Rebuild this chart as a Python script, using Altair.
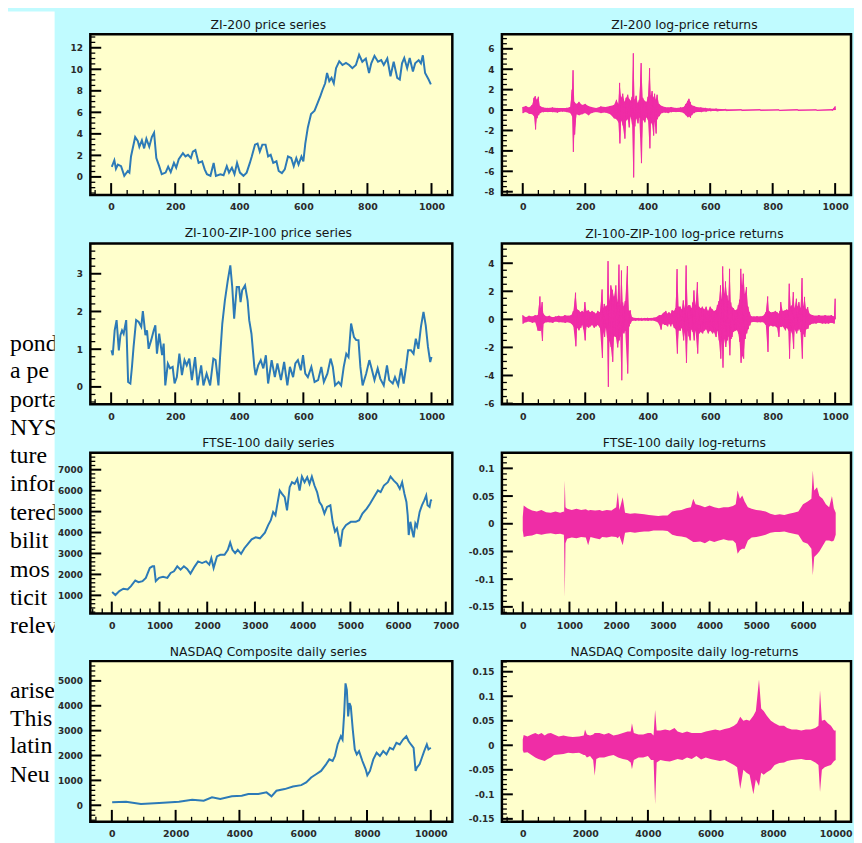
import altair as alt
import pandas as pd

FONT = "DejaVu Sans"
INK = "#161616"
LAB = "#2a2a2a"
BLUE = "#2c7ab7"
MAGENTA = "#ef2da6"
YELLOW = "#ffffcc"
CYAN = "#c0fbff"

# ---------------- page text fragments (left margin of the scanned page) ----------------
page_words = ["pond", "a pe", "porta", "NYS", "ture", "infor", "tered", "bilit", "mos",
              "ticit", "relev", "arise", "This", "latin", "Neu"]
page_lines = [0, 0.98, 2.0, 2.98, 3.96, 4.98, 6.0, 6.98, 8.0, 8.98, 10.0, 12.28, 13.26, 14.25, 15.26]

# ---------------- ZI-200 price series ----------------
zi200_x = [2, 10, 15, 21, 31, 41, 52, 57, 62, 75, 83, 88, 96, 103, 110, 119, 127, 134, 141, 150,
           158, 170, 178, 186, 196, 203, 211, 224, 232, 240, 249, 255, 263, 273, 284, 292, 299, 310, 320, 327,
           341, 351, 361, 368, 377, 385, 393, 402, 413, 423, 433, 439, 449, 457, 464, 472, 482, 490, 498, 506,
           516, 523, 533, 542, 552, 562, 570, 578, 585, 594, 600, 606, 614, 624, 635, 645, 653, 660, 668, 674,
           681, 688, 695, 702, 712, 722, 733, 743, 753, 764, 774, 784, 795, 805, 812, 822, 833, 843, 851, 862,
           872, 882, 893, 901, 908, 915, 924, 932, 942, 949, 960, 967, 973, 980, 991, 998]
zi200_y = [0.94, 1.55, 0.76, 1.15, 1.0, 0.1, 0.55, 0.4, 1.9, 3.7, 3.35, 2.8, 3.4, 2.65, 3.55, 2.8, 3.7, 4.1, 1.75, 1.0,
           0.25, 0.4, 0.95, 0.45, 1.3, 0.85, 1.65, 2.2, 1.9, 2.05, 1.75, 2.35, 2.5, 1.3, 1.45, 0.7, 0.25, 0.1, 1.3, 0.1,
           0.25, 0.15, 1.0, 0.4, 0.85, 0.25, 1.3, 0.4, 0.1, 0.4, 1.3, 1.9, 3.0, 3.1, 2.35, 3.0, 3.0, 1.9, 2.05, 1.3,
           1.45, 0.55, 0.35, 0.7, 1.9, 1.75, 1.0, 1.75, 1.15, 1.9, 1.45, 3.1, 4.6, 5.85, 6.15, 6.9, 7.5, 8.1, 8.7, 9.65,
           8.9, 9.2, 8.7, 10.1, 10.75, 10.4, 10.6, 10.4, 10.1, 10.4, 11.35, 10.7, 11.0, 9.65, 10.55, 11.25, 10.7, 10.85, 10.4, 11.0,
           9.35, 10.7, 9.2, 9.05, 10.55, 11.05, 10.1, 11.05, 9.8, 10.55, 10.85, 10.55, 11.3, 9.65, 9.05, 8.6]

# ---------------- ZI-200 log-price returns (local high / low readings) ----------------
zi200r_x = [0, 10, 20, 30, 36, 40, 45, 50, 55, 65, 80, 95, 110, 125, 140, 152, 158, 161, 165, 172,
            180, 190, 200, 210, 220, 235, 250, 265, 280, 292, 300, 306, 310, 315, 320, 326, 331, 336, 340, 345,
            350, 354, 358, 363, 368, 373, 379, 384, 390, 396, 401, 406, 410, 414, 418, 422, 426, 430, 436, 445,
            455, 465, 475, 490, 505, 515, 522, 528, 532, 536, 540, 548, 556, 570, 585, 600, 620, 650, 700, 760,
            820, 880, 940, 990, 1000]
zi200r_hi = [0.3, 0.4, 0.25, 0.5, 1.2, 1.36, 1.0, 1.3, 0.4, 0.25, 0.2, 0.25, 0.2, 0.2, 0.2, 0.3, 2.0, 3.9, 0.8, 0.6,
             0.8, 0.5, 0.6, 0.4, 0.3, 0.2, 0.35, 0.3, 0.4, 0.5, 1.0, 0.6, 2.66, 1.2, 1.6, 0.8, 1.2, 1.5, 1.1, 0.9,
             1.3, 5.56, 1.0, 1.4, 0.7, 1.0, 4.6, 1.2, 0.9, 0.8, 1.3, 4.1, 1.4, 1.86, 1.2, 1.6, 1.0, 1.5, 0.6, 0.4,
             0.3, 0.25, 0.3, 0.2, 0.25, 0.3, 0.6, 0.9, 1.1, 0.8, 0.5, 0.4, 0.3, 0.25, 0.2, 0.15, 0.12, 0.08, 0.05, 0.05,
             0.04, 0.05, 0.04, 0.05, 0.35]
zi200r_lo = [-0.3, -0.2, -0.35, -0.4, -0.6, -1.9, -0.8, -0.5, -0.3, -0.2, -0.2, -0.2, -0.25, -0.15, -0.2, -0.3, -0.6, -4.1, -2.4, -0.4,
             -0.5, -0.4, -0.3, -0.5, -0.3, -0.2, -0.3, -0.25, -0.4, -0.8, -0.9, -1.2, -3.27, -1.0, -1.5, -2.8, -1.0, -0.9, -1.7, -0.6,
             -1.4, -6.6, -1.6, -0.8, -1.3, -0.7, -5.2, -0.9, -1.2, -0.7, -1.0, -3.75, -1.2, -1.4, -2.5, -1.1, -2.3, -0.9, -0.6, -0.3,
             -0.25, -0.3, -0.2, -0.2, -0.2, -0.3, -0.5, -0.7, -0.6, -0.75, -0.5, -0.3, -0.2, -0.2, -0.15, -0.1, -0.1, -0.06, -0.05, -0.04,
             -0.05, -0.04, -0.04, -0.05, 0.0]

# ---------------- ZI-100-ZIP-100 price series ----------------
zi100_x = [1, 5, 11, 17, 24, 29, 34, 39, 47, 53, 60, 65, 70, 78, 86, 94, 99, 107, 112, 117,
           125, 133, 138, 143, 150, 159, 164, 169, 177, 184, 192, 198, 205, 213, 221, 229, 236, 244, 252, 262,
           270, 281, 288, 298, 309, 319, 326, 335, 340, 347, 355, 364, 372, 378, 384, 392, 399, 404, 409, 418,
           426, 431, 438, 447, 451, 459, 467, 475, 483, 490, 501, 511, 519, 530, 540, 550, 558, 568, 575, 583,
           592, 599, 606, 614, 625, 635, 646, 656, 664, 675, 685, 692, 699, 710, 718, 726, 734, 741, 749, 758,
           765, 772, 778, 785, 796, 806, 813, 822, 832, 840, 851, 861, 868, 879, 886, 896, 905, 913, 920, 927,
           936, 944, 951, 959, 967, 975, 982, 989, 996, 1000]
zi100_y = [0.97, 0.84, 1.5, 1.77, 0.97, 1.37, 1.5, 1.41, 1.77, 0.13, 0.09, 0.53, 1.06, 1.77, 1.72, 1.59, 2.01, 1.37, 1.5, 1.01,
           1.24, 1.5, 1.63, 0.88, 1.41, 0.84, 1.15, 0.04, 0.62, 0.49, 0.53, 0.09, 0.26, 0.88, 0.31, 0.71, 0.57, 0.75, 0.18, 0.79,
           0.04, 0.57, 0.04, 0.35, 0.04, 0.75, 0.71, 0.04, 0.79, 1.68, 2.29, 2.82, 3.22, 2.65, 1.81, 2.65, 2.65, 2.25, 2.56, 2.69,
           2.29, 1.77, 1.41, 0.53, 0.31, 0.57, 0.71, 0.49, 0.84, 0.09, 0.71, 0.26, 0.62, 0.18, 0.66, 0.04, 0.53, 0.26, 0.62, 0.71,
           0.44, 0.84, 0.35, 0.26, 0.53, 0.13, 0.18, 0.53, 0.13, 0.35, 0.75, 0.53, 0.04, 0.13, 0.04, 0.53, 0.88, 0.79, 1.68, 1.32,
           1.24, 1.24, 0.53, 0.04, 0.35, 0.71, 0.49, 0.18, 0.49, 0.22, 0.04, 0.57, 0.18, 0.09, 0.26, 0.04, 0.49, 0.09, 0.49, 0.97,
           0.97, 0.88, 1.28, 1.01, 1.59, 1.99, 1.63, 1.06, 0.66, 0.79]

# ---------------- ZI-100-ZIP-100 log-price returns ----------------
zi100r_x = [0, 10, 20, 30, 40, 48, 55, 58, 62, 66, 75, 85, 95, 105, 115, 125, 135, 145, 155, 162,
            169, 174, 179, 185, 190, 194, 199, 204, 210, 216, 222, 228, 234, 240, 247, 254, 258, 261, 266, 270,
            273, 277, 282, 287, 292, 298, 303, 308, 312, 316, 320, 323, 328, 335, 340, 344, 350, 360, 370, 380,
            390, 400, 410, 420, 432, 437, 442, 448, 453, 458, 463, 468, 473, 478, 484, 489, 494, 499, 504, 509,
            514, 519, 523, 528, 531, 535, 540, 544, 548, 553, 559, 564, 570, 575, 581, 587, 593, 600, 607, 612,
            618, 623, 628, 633, 637, 640, 645, 649, 654, 658, 662, 666, 669, 674, 680, 686, 690, 694, 698, 702,
            706, 711, 716, 721, 726, 731, 740, 750, 760, 770, 778, 784, 788, 793, 800, 809, 814, 819, 823, 826,
            832, 840, 845, 850, 853, 858, 862, 866, 870, 876, 880, 884, 889, 894, 898, 902, 907, 912, 918, 928,
            938, 948, 958, 968, 978, 988, 996, 1000]
zi100r_hi = [0.3, 0.15, 0.25, 0.2, 0.3, 0.3, 1.63, 0.8, 1.23, 0.4, 0.2, 0.25, 0.15, 0.2, 0.25, 0.2, 0.3, 0.25, 0.3, 0.6,
             1.9, 0.7, 0.64, 0.5, 0.6, 0.5, 1.23, 0.6, 0.64, 0.5, 0.6, 0.5, 0.4, 0.6, 0.5, 2.13, 0.8, 1.1, 0.9, 1.0,
             4.15, 1.3, 2.42, 2.1, 1.6, 2.42, 1.2, 3.9, 1.0, 3.48, 1.2, 0.9, 1.3, 3.8, 0.6, 0.64, 0.15, 0.1, 0.1, 0.08,
             0.1, 0.1, 0.1, 0.12, 0.2, 0.3, 0.3, 0.4, 0.5, 0.6, 0.4, 0.5, 0.4, 0.64, 0.6, 0.8, 3.58, 0.9, 0.9, 0.7,
             1.35, 0.8, 3.84, 0.9, 1.0, 1.0, 0.8, 1.2, 2.06, 1.0, 2.65, 0.9, 0.8, 0.9, 0.7, 0.9, 0.6, 0.9, 0.7, 0.6,
             0.64, 1.0, 1.3, 2.42, 1.4, 3.77, 1.8, 2.7, 1.7, 1.3, 3.6, 1.2, 0.9, 0.8, 0.64, 0.7, 1.0, 1.4, 3.6, 2.4,
             3.25, 1.8, 2.3, 0.9, 0.5, 0.22, 0.2, 0.22, 0.2, 0.25, 0.5, 1.63, 0.6, 0.5, 0.5, 0.6, 0.5, 0.4, 0.6, 1.23,
             0.6, 0.64, 0.7, 0.64, 2.54, 0.9, 1.0, 1.94, 0.8, 1.47, 0.9, 1.23, 0.8, 2.94, 0.9, 1.6, 0.7, 0.88, 0.4, 0.3,
             0.25, 0.3, 0.25, 0.3, 0.25, 0.3, 0.2, 1.47]
zi100r_lo = [-0.3, -0.2, -0.15, -0.25, -0.2, -0.8, -0.83, -0.6, -1.54, -0.3, -0.2, -0.2, -0.25, -0.15, -0.2, -0.2, -0.25, -0.2, -0.3, -0.5,
             -1.92, -0.6, -0.78, -0.6, -0.4, -0.7, -1.5, -0.5, -0.6, -0.5, -0.4, -0.6, -0.5, -0.4, -0.6, -2.75, -0.9, -1.25, -0.6, -1.3,
             -4.81, -1.5, -1.97, -3.03, -1.2, -1.26, -2.0, -1.5, -1.2, -4.34, -0.9, -1.0, -0.8, -3.86, -0.5, -0.3, -0.1, -0.1, -0.08, -0.1,
             -0.08, -0.1, -0.08, -0.1, -0.2, -0.4, -0.73, -0.3, -0.4, -0.4, -0.5, -0.3, -0.5, -0.3, -0.6, -0.7, -2.44, -0.8, -0.8, -0.6,
             -1.5, -0.9, -3.1, -0.8, -1.2, -1.5, -0.7, -0.9, -1.5, -0.8, -2.44, -1.0, -0.9, -1.0, -0.8, -0.7, -1.0, -0.8, -1.0, -0.9,
             -1.26, -0.8, -1.5, -2.8, -1.5, -3.44, -1.4, -1.97, -1.5, -1.2, -2.56, -1.4, -1.26, -0.9, -0.8, -0.78, -1.0, -1.6, -3.1, -2.6,
             -2.8, -1.4, -1.0, -0.7, -0.43, -0.2, -0.18, -0.2, -0.2, -0.2, -0.4, -2.32, -0.5, -0.43, -0.5, -0.5, -0.6, -1.25, -0.5, -0.55,
             -0.5, -0.78, -0.6, -0.8, -2.8, -0.8, -1.0, -2.1, -0.7, -1.0, -0.8, -0.67, -0.9, -2.8, -1.0, -1.26, -0.7, -0.67, -0.4, -0.3,
             -0.3, -0.25, -0.3, -0.3, -0.3, -0.25, -0.3, 0.0]

# ---------------- FTSE-100 daily series ----------------
ftse_x = [7, 76, 159, 243, 333, 402, 492, 561, 644, 714, 797, 852, 887, 922, 991, 1074, 1164, 1234, 1303, 1372,
          1441, 1511, 1580, 1649, 1739, 1809, 1892, 1975, 2044, 2086, 2134, 2204, 2273, 2363, 2432, 2481, 2529, 2585, 2640, 2710,
          2779, 2862, 2931, 3015, 3105, 3209, 3278, 3333, 3382, 3430, 3472, 3520, 3569, 3624, 3673, 3728, 3777, 3832, 3888, 3936,
          3985, 4040, 4096, 4144, 4193, 4248, 4303, 4352, 4400, 4456, 4511, 4581, 4629, 4678, 4719, 4768, 4789, 4837, 4906, 5010,
          5114, 5184, 5253, 5343, 5412, 5495, 5578, 5634, 5703, 5786, 5842, 5911, 5980, 6036, 6085, 6133, 6175, 6202, 6223, 6258,
          6306, 6327, 6362, 6396, 6452, 6500, 6549, 6590, 6618, 6660, 6687, 6708]
ftse_y = [1157, 1016, 1205, 1315, 1283, 1441, 1709, 1630, 1677, 1835, 2307, 2386, 2386, 1677, 1835, 1882, 1835, 2071, 2150, 2386,
          2228, 2386, 2260, 2039, 2386, 2622, 2543, 2622, 2465, 2780, 2307, 2858, 2937, 2937, 3173, 3520, 3173, 3016, 3173, 2984,
          3252, 3488, 3677, 3772, 3724, 3992, 4354, 4591, 4984, 4827, 5378, 6008, 5850, 5693, 5063, 6165, 6402, 6323, 6559, 6008,
          6669, 6402, 6638, 6323, 6669, 6244, 5929, 5457, 5299, 4906, 5220, 5299, 4512, 4039, 4197, 3646, 3331, 4118, 4354, 4512,
          4512, 4591, 4906, 5142, 5378, 5693, 6008, 5929, 6244, 6402, 6669, 6480, 6323, 6087, 6402, 5850, 5457, 4827, 3882, 4512,
          3961, 3772, 4433, 4276, 4984, 5299, 5535, 5772, 5299, 5220, 5535, 5567]

# ---------------- FTSE-100 daily log-returns (envelope readings) ----------------
ftser_x = [0, 20, 100, 200, 300, 400, 500, 600, 700, 800, 880, 885, 900, 915, 950, 1050, 1150, 1250, 1350, 1400,
           1450, 1550, 1650, 1700, 1800, 1900, 2000, 2035, 2070, 2140, 2190, 2300, 2400, 2500, 2600, 2700, 2800, 2900, 3000, 3100,
           3200, 3300, 3400, 3500, 3600, 3650, 3700, 3800, 3900, 4000, 4100, 4200, 4300, 4400, 4500, 4560, 4600, 4650, 4700, 4750,
           4820, 4900, 5000, 5100, 5200, 5300, 5400, 5500, 5600, 5700, 5800, 5900, 6000, 6100, 6180, 6210, 6240, 6300, 6350, 6420,
           6490, 6560, 6620, 6660, 6700]
ftser_hi = [0.012, 0.033, 0.028, 0.024, 0.022, 0.025, 0.021, 0.02, 0.022, 0.02, 0.022, 0.02, 0.078, 0.03, 0.027, 0.025, 0.027, 0.025, 0.026, 0.024,
            0.025, 0.024, 0.025, 0.023, 0.025, 0.024, 0.03, 0.057, 0.025, 0.048, 0.02, 0.018, 0.019, 0.018, 0.017, 0.016, 0.015, 0.014, 0.015, 0.015,
            0.022, 0.024, 0.025, 0.028, 0.03, 0.045, 0.035, 0.033, 0.03, 0.033, 0.03, 0.028, 0.03, 0.03, 0.032, 0.035, 0.06, 0.045, 0.051, 0.04,
            0.03, 0.027, 0.025, 0.024, 0.022, 0.018, 0.016, 0.017, 0.016, 0.018, 0.02, 0.022, 0.035, 0.04, 0.045, 0.096, 0.06, 0.066, 0.05, 0.045,
            0.035, 0.03, 0.05, 0.028, 0.02]
ftser_lo = [-0.012, -0.024, -0.022, -0.021, -0.018, -0.02, -0.018, -0.017, -0.019, -0.018, -0.02, -0.03, -0.132, -0.035, -0.027, -0.025, -0.026, -0.024, -0.025, -0.039,
            -0.024, -0.026, -0.028, -0.024, -0.025, -0.023, -0.024, -0.026, -0.022, -0.039, -0.016, -0.015, -0.016, -0.015, -0.014, -0.014, -0.012, -0.012, -0.012, -0.013,
            -0.02, -0.022, -0.023, -0.025, -0.03, -0.033, -0.033, -0.032, -0.035, -0.03, -0.033, -0.03, -0.028, -0.03, -0.03, -0.035, -0.054, -0.048, -0.045, -0.045,
            -0.03, -0.025, -0.024, -0.022, -0.02, -0.016, -0.015, -0.015, -0.014, -0.016, -0.018, -0.02, -0.033, -0.036, -0.045, -0.093, -0.06, -0.055, -0.05, -0.04,
            -0.03, -0.03, -0.032, -0.03, -0.02]

# ---------------- NASDAQ Composite daily series ----------------
nas_x = [10, 446, 912, 1482, 2104, 2518, 2881, 3140, 3399, 3762, 4073, 4280, 4591, 4850, 5005, 5161, 5420, 5679, 5938, 6093,
         6249, 6404, 6560, 6715, 6819, 6922, 6995, 7078, 7181, 7233, 7285, 7326, 7368, 7409, 7451, 7492, 7554, 7617, 7679, 7751,
         7855, 7959, 8010, 8093, 8197, 8301, 8404, 8508, 8611, 8715, 8819, 8922, 9026, 9130, 9233, 9306, 9378, 9461, 9523, 9565,
         9648, 9720, 9793, 9876, 9927, 10000]
nas_y = [120, 146, 53, 93, 146, 226, 186, 319, 252, 359, 385, 452, 452, 518, 359, 584, 651, 757, 810, 916,
         1116, 1248, 1381, 1647, 1846, 1780, 1979, 2444, 2776, 2643, 3705, 4900, 4635, 3572, 4104, 3971, 3041, 2244, 2045, 2178,
         1780, 1448, 1208, 1381, 1846, 2112, 1979, 2178, 2045, 2311, 2244, 2510, 2444, 2643, 2776, 2576, 2444, 2311, 1381, 1514,
         1647, 1912, 2178, 2444, 2244, 2311]

# ---------------- NASDAQ Composite daily log-returns (envelope readings) ----------------
nasr_x = [0, 30, 150, 280, 400, 500, 600, 700, 800, 900, 1000, 1150, 1300, 1450, 1600, 1800, 1950, 1990, 2050, 2150,
          2250, 2300, 2350, 2450, 2600, 2750, 2900, 3050, 3200, 3350, 3450, 3490, 3550, 3700, 3850, 4000, 4100, 4180, 4230, 4280,
          4400, 4550, 4700, 4850, 4950, 5100, 5250, 5400, 5550, 5700, 5850, 6000, 6150, 6300, 6450, 6600, 6750, 6850, 6950, 7050,
          7150, 7250, 7370, 7450, 7550, 7620, 7700, 7800, 7930, 8050, 8200, 8350, 8450, 8600, 8750, 8900, 9050, 9200, 9350, 9450,
          9500, 9560, 9650, 9750, 9850, 9950, 10000]
nasr_hi = [0.012, 0.021, 0.018, 0.022, 0.025, 0.022, 0.025, 0.02, 0.024, 0.025, 0.022, 0.018, 0.02, 0.018, 0.017, 0.018, 0.02, 0.032, 0.022, 0.02,
           0.022, 0.025, 0.025, 0.025, 0.022, 0.025, 0.02, 0.022, 0.025, 0.028, 0.028, 0.045, 0.025, 0.022, 0.022, 0.025, 0.025, 0.02, 0.072, 0.03,
           0.03, 0.032, 0.03, 0.035, 0.028, 0.025, 0.028, 0.025, 0.025, 0.025, 0.028, 0.03, 0.032, 0.03, 0.033, 0.035, 0.04, 0.045, 0.058, 0.05,
           0.052, 0.05, 0.06, 0.07, 0.134, 0.075, 0.07, 0.06, 0.05, 0.045, 0.04, 0.04, 0.035, 0.032, 0.032, 0.03, 0.032, 0.032, 0.035, 0.04,
           0.112, 0.05, 0.052, 0.045, 0.04, 0.03, 0.03]
nasr_lo = [-0.01, -0.015, -0.014, -0.02, -0.025, -0.028, -0.03, -0.032, -0.028, -0.025, -0.02, -0.019, -0.018, -0.015, -0.016, -0.015, -0.02, -0.02, -0.025, -0.022,
           -0.03, -0.062, -0.028, -0.025, -0.025, -0.022, -0.02, -0.025, -0.028, -0.03, -0.035, -0.049, -0.03, -0.025, -0.025, -0.022, -0.03, -0.03, -0.12, -0.035,
           -0.03, -0.032, -0.033, -0.03, -0.028, -0.03, -0.025, -0.028, -0.022, -0.029, -0.025, -0.028, -0.03, -0.032, -0.03, -0.035, -0.04, -0.045, -0.089, -0.05,
           -0.056, -0.06, -0.1, -0.07, -0.083, -0.056, -0.06, -0.055, -0.05, -0.04, -0.036, -0.035, -0.032, -0.03, -0.029, -0.028, -0.03, -0.03, -0.035, -0.04,
           -0.096, -0.05, -0.045, -0.042, -0.04, -0.032, -0.03]

for a, b in [(zi200_x, zi200_y), (zi100_x, zi100_y), (ftse_x, ftse_y), (nas_x, nas_y)]:
    assert len(a) == len(b)
for a, b, c in [(zi200r_x, zi200r_hi, zi200r_lo), (zi100r_x, zi100r_hi, zi100r_lo),
                (ftser_x, ftser_hi, ftser_lo), (nasr_x, nasr_hi, nasr_lo)]:
    assert len(a) == len(b) == len(c)

# ---------------- layout ----------------
W_L, W_R, H = 365, 352, 162
TXT_W, TXT_H = 47, 830
TOP_EXTRA = 23          # white page strip reaches up to the top of the picture
LINE0, PITCH = 319, 28.5


def rng(a, b, s):
    n = int(round((b - a) / s))
    return [round(a + i * s, 6) for i in range(n + 1)]


def minors(a, b, s, majors, dom):
    return [v for v in rng(a, b, s)
            if dom[0] <= v <= dom[1] and all(abs(v - m) > 1e-9 for m in majors)]


def price_line(xs, ys):
    return pd.DataFrame({"x": xs, "y": ys})


def zigzag(xs, hi, lo):
    rows = []
    for x, h, l in zip(xs, hi, lo):
        rows.append({"x": x, "y": h})
        rows.append({"x": x + 1, "y": l})
    return pd.DataFrame(rows)


def envelope(xs, hi, lo):
    return pd.DataFrame({"x": xs, "hi": hi, "lo": lo})


def panel(title, kind, data, xdom, ydom, xmaj, xminor_step, ymaj, yminor_step, width,
          xlabels=None, toff=3, tdx=0):
    xs = alt.Scale(domain=xdom, nice=False, zero=False)
    ys = alt.Scale(domain=ydom, nice=False, zero=False)
    xaxis = alt.Axis(values=xlabels if xlabels is not None else xmaj,
                     labelExpr="toString(datum.value)", ticks=False, domain=False, grid=False,
                     title=None, labelPadding=7, labelFontSize=9.5, labelFont=FONT,
                     labelFontWeight="bold", labelColor=LAB, labelFlush=False,
                     minExtent=18, maxExtent=18)
    yaxis = alt.Axis(values=ymaj, labelExpr="toString(datum.value)", ticks=False, domain=False,
                     grid=False, title=None, labelPadding=8, labelFontSize=9, labelFont=FONT,
                     labelFontWeight="bold", labelColor=LAB, labelFlush=False,
                     minExtent=34, maxExtent=34)
    X = lambda f: alt.X(f, scale=xs, axis=xaxis)
    Y = lambda f: alt.Y(f, scale=ys, axis=yaxis)

    layers = []
    if kind == "price":
        layers.append(alt.Chart(data).mark_line(color=BLUE, strokeWidth=2, clip=True).encode(
            x=X("x:Q"), y=Y("y:Q")))
    elif kind == "spiky":
        env, zz = data
        layers.append(alt.Chart(env).mark_area(color=MAGENTA, clip=True).encode(
            x=X("x:Q"), y=Y("lo:Q"), y2="hi:Q"))
        layers.append(alt.Chart(zz).mark_line(color=MAGENTA, strokeWidth=1, clip=True).encode(
            x=X("x:Q"), y=Y("y:Q")))
    else:
        layers.append(alt.Chart(data).mark_area(color=MAGENTA, clip=True).encode(
            x=X("x:Q"), y=Y("lo:Q"), y2="hi:Q"))

    xmin_vals = minors(xmaj[0] - 2 * xminor_step, xmaj[-1] + 2 * xminor_step,
                       xminor_step, xmaj, xdom)
    ymin_vals = minors(ymaj[0] - 4 * yminor_step, ymaj[-1] + 10 * yminor_step,
                       yminor_step, ymaj, ydom)
    xmaj_in = [v for v in xmaj if xdom[0] <= v <= xdom[1]]

    def xt(vals, length, w):
        return alt.Chart(pd.DataFrame({"x": vals})).mark_rule(color="black", strokeWidth=w).encode(
            x=X("x:Q"), y=alt.value(H), y2=alt.value(H - length))

    def yt(vals, length, w):
        return alt.Chart(pd.DataFrame({"y": vals})).mark_rule(color="black", strokeWidth=w).encode(
            y=Y("y:Q"), x=alt.value(0), x2=alt.value(length))

    layers += [xt(xmaj_in, 12, 2), xt(xmin_vals, 5, 1.3), yt(ymaj, 11, 2), yt(ymin_vals, 5, 1.3)]
    return alt.layer(*layers).properties(
        width=width, height=H,
        title=alt.TitleParams(text=title, fontSize=12.5, font=FONT, fontWeight="normal",
                              color=INK, offset=toff, frame="group", anchor="middle", dx=tdx),
        view=alt.ViewBackground(fill=YELLOW, stroke="black", strokeWidth=2.5),
    )


zi_x = rng(0, 1000, 200)
p1 = panel("ZI-200 price series", "price", price_line(zi200_x, zi200_y),
           [-65, 1065], [-1.68, 13.25], zi_x, 50, rng(0, 12, 2), 0.5, W_L, tdx=-3)
p2 = panel("ZI-200 log-price returns", "spiky",
           (envelope(zi200r_x, zi200r_hi, zi200r_lo), zigzag(zi200r_x, zi200r_hi, zi200r_lo)),
           [-66.7, 1050.8], [-8.32, 7.42], zi_x, 50, rng(-8, 6, 2), 0.5, W_R, tdx=8)
p3 = panel("ZI-100-ZIP-100 price series", "price", price_line(zi100_x, zi100_y),
           [-65, 1065], [-0.46, 3.8], zi_x, 50, rng(0, 3, 1), 0.2, W_L, tdx=-3)
p4 = panel("ZI-100-ZIP-100 log-price returns", "spiky",
           (envelope(zi100r_x, zi100r_hi, zi100r_lo), zigzag(zi100r_x, zi100r_hi, zi100r_lo)),
           [-66.7, 1050.8], [-6.05, 5.4], zi_x, 50, rng(-6, 4, 2), 0.5, W_R, tdx=8)
ft_x = rng(0, 7000, 1000)
p5 = panel("FTSE-100 daily series", "price", price_line(ftse_x, ftse_y),
           [-450, 7137], [133, 7805], ft_x, 200, rng(1000, 7000, 1000), 200, W_L, tdx=-3)
p6 = panel("FTSE-100 daily log-returns", "area", envelope(ftser_x, ftser_hi, ftser_lo),
           [-446, 7028], [-0.162, 0.128], ft_x, 200, [-0.15, -0.1, -0.05, 0, 0.05, 0.1], 0.01, W_R,
           xlabels=rng(0, 6000, 1000), tdx=8)
nq_x = rng(0, 10000, 2000)
p7 = panel("NASDAQ Composite daily series", "price", price_line(nas_x, nas_y),
           [-675, 10675], [-664, 5795], nq_x, 500, rng(0, 5000, 1000), 200, W_L, tdx=-3)
p8 = panel("NASDAQ Composite daily log-returns", "area", envelope(nasr_x, nasr_hi, nasr_lo),
           [-666, 10491], [-0.156, 0.1716], nq_x, 500,
           [-0.15, -0.1, -0.05, 0, 0.05, 0.1, 0.15], 0.01, W_R, tdx=8)

rows = [alt.hconcat(p1, p2, spacing=12), alt.hconcat(p3, p4, spacing=12),
        alt.hconcat(p5, p6, spacing=6), alt.hconcat(p7, p8, spacing=12)]
grid = alt.vconcat(*rows, spacing=11)

# left strip: the page text that the figure is pasted over
strip_bg = alt.Chart(alt.Data(values=[{}])).mark_rect(color="white").encode(
    x=alt.value(0), x2=alt.value(TXT_W), y=alt.value(-TOP_EXTRA), y2=alt.value(TXT_H))
strip_txt = alt.Chart(pd.DataFrame({"w": page_words, "line": page_lines})).mark_text(
    font="Liberation Serif", fontSize=24, align="left", baseline="alphabetic", color="black",
    clip=True).encode(
    x=alt.value(2),
    y=alt.Y("line:Q", scale=alt.Scale(domain=[-LINE0 / PITCH, (TXT_H - LINE0) / PITCH],
                                      reverse=True, nice=False, zero=False), axis=None),
    text="w:N")
strip = alt.layer(strip_bg, strip_txt).properties(
    width=TXT_W, height=TXT_H, view=alt.ViewBackground(strokeWidth=0))

chart = alt.hconcat(strip, grid, spacing=0).properties(
    background=CYAN, padding=0
).configure_view(strokeWidth=0)

chart.save("out.html", embed_options={"renderer": "svg", "actions": False})
